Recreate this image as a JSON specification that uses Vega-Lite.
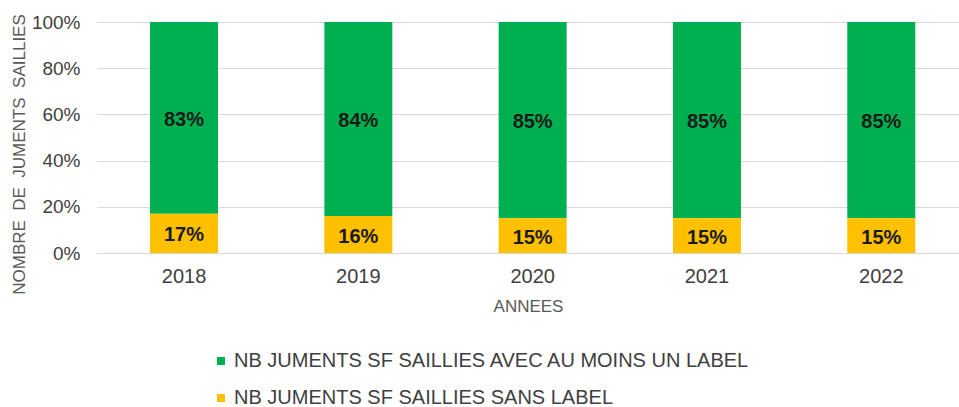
{
  "$schema": "https://vega.github.io/schema/vega-lite/v6.json",
  "autosize": {"type": "none"},
  "width": 862,
  "height": 231,
  "padding": {"left": 97, "top": 22, "right": 0, "bottom": 154},
  "background": "white",
  "config": {
    "font": "Liberation Sans",
    "view": {"stroke": null}
  },
  "data": {
    "values": [
      {"annee": "2018", "serie": "NB JUMENTS SF SAILLIES AVEC AU MOINS UN LABEL", "pct": 0.83},
      {"annee": "2018", "serie": "NB JUMENTS SF SAILLIES SANS LABEL", "pct": 0.17},
      {"annee": "2019", "serie": "NB JUMENTS SF SAILLIES AVEC AU MOINS UN LABEL", "pct": 0.84},
      {"annee": "2019", "serie": "NB JUMENTS SF SAILLIES SANS LABEL", "pct": 0.16},
      {"annee": "2020", "serie": "NB JUMENTS SF SAILLIES AVEC AU MOINS UN LABEL", "pct": 0.85},
      {"annee": "2020", "serie": "NB JUMENTS SF SAILLIES SANS LABEL", "pct": 0.15},
      {"annee": "2021", "serie": "NB JUMENTS SF SAILLIES AVEC AU MOINS UN LABEL", "pct": 0.85},
      {"annee": "2021", "serie": "NB JUMENTS SF SAILLIES SANS LABEL", "pct": 0.15},
      {"annee": "2022", "serie": "NB JUMENTS SF SAILLIES AVEC AU MOINS UN LABEL", "pct": 0.85},
      {"annee": "2022", "serie": "NB JUMENTS SF SAILLIES SANS LABEL", "pct": 0.15}
    ]
  },
  "encoding": {
    "x": {
      "field": "annee",
      "type": "nominal",
      "scale": {"paddingInner": 0.61, "paddingOuter": 0.2775, "align": 0.548},
      "axis": {
        "title": "ANNEES",
        "labelAngle": 0,
        "labelFontSize": 20,
        "labelColor": "#404040",
        "labelPadding": 13,
        "ticks": false,
        "domainColor": "#D9D9D9",
        "titleFontSize": 17,
        "titleFontWeight": "normal",
        "titleColor": "#595959",
        "titlePadding": 12
      }
    },
    "order": {"field": "serie", "sort": "descending"}
  },
  "layer": [
    {
      "mark": {"type": "bar"},
      "encoding": {
        "y": {
          "field": "pct",
          "type": "quantitative",
          "stack": "zero",
          "scale": {"domain": [0, 1]},
          "axis": {
            "title": "NOMBRE\u00a0 DE\u00a0 JUMENTS\u00a0 SAILLIES",
            "format": ".0%",
            "values": [0, 0.2, 0.4, 0.6, 0.8, 1],
            "labelFontSize": 19,
            "labelColor": "#404040",
            "labelPadding": 17,
            "ticks": false,
            "domain": false,
            "gridColor": "#D9D9D9",
            "titleFontSize": 17,
            "titleFontWeight": "normal",
            "titleColor": "#595959",
            "titleY": 132,
            "titlePadding": 3
          }
        },
        "color": {
          "field": "serie",
          "type": "nominal",
          "scale": {
            "domain": ["NB JUMENTS SF SAILLIES AVEC AU MOINS UN LABEL", "NB JUMENTS SF SAILLIES SANS LABEL"],
            "range": ["#00B050", "#FFC000"]
          },
          "legend": {
            "title": null,
            "orient": "none",
            "legendX": 114,
            "legendY": 329,
            "direction": "vertical",
            "symbolType": "square",
            "symbolSize": 64,
            "symbolStrokeWidth": 0,
            "labelFontSize": 20,
            "labelColor": "#404040",
            "labelLimit": 800,
            "rowPadding": 17,
            "labelOffset": 3
          }
        }
      }
    },
    {
      "mark": {"type": "text", "fontWeight": "bold", "fontSize": 20, "color": "#1a1a1a", "baseline": "middle", "dy": 2},
      "encoding": {
        "y": {"field": "pct", "type": "quantitative", "stack": "zero", "bandPosition": 0.5},
        "text": {"field": "pct", "type": "quantitative", "format": ".0%"}
      }
    }
  ]
}
